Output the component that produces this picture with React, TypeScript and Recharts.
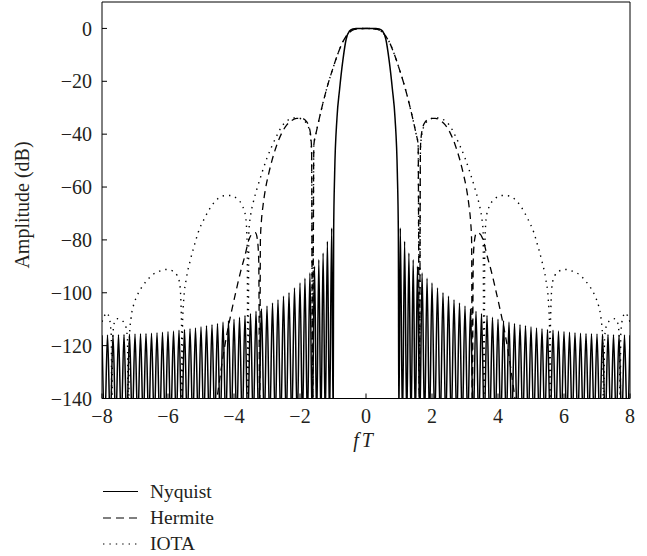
import React from 'react';
import { LineChart, Line, XAxis, YAxis } from 'recharts';

type P = [number, number];

const X_TICKS = [-8, -6, -4, -2, 0, 2, 4, 6, 8];
const Y_TICKS = [-140, -120, -100, -80, -60, -40, -20, 0];
const SERIES_NAMES = ['Nyquist', 'Hermite', 'IOTA'];

// Right halves (fT >= 0); the spectra are symmetric.
const NYQUIST_MAIN: P[] = [
  [0, 0], [0.3, 0], [0.4, -0.2], [0.5, -1], [0.6, -4], [0.7, -12], [0.8, -23],
  [0.88, -34], [0.95, -55], [0.98, -77], [0.995, -150],
];

// alternating sidelobe peaks and nulls
const NYQUIST_SIDELOBES: P[] = [
  [1.04, -75.5], [1.105, -150], [1.17, -80.5], [1.235, -150], [1.3, -85], [1.365, -150],
  [1.43, -87.5], [1.495, -150], [1.56, -90], [1.63, -150], [1.7, -92.5], [1.775, -150],
  [1.85, -94.5], [1.925, -150], [2.0, -96.3], [2.083, -150], [2.167, -98.2], [2.25, -150],
  [2.333, -100], [2.417, -150], [2.5, -101.3], [2.583, -150], [2.667, -102.6], [2.75, -150],
  [2.833, -103.9], [2.917, -150], [3.0, -105], [3.083, -150], [3.167, -106], [3.25, -150],
  [3.333, -107], [3.417, -150], [3.5, -107.8], [3.583, -150], [3.667, -108.6], [3.75, -150],
  [3.833, -109.3], [3.917, -150], [4.0, -110], [4.083, -150], [4.167, -110.6], [4.25, -150],
  [4.333, -111.1], [4.417, -150], [4.5, -111.6], [4.583, -150], [4.667, -112.1], [4.75, -150],
  [4.833, -112.5], [4.917, -150], [5.0, -112.9], [5.083, -150], [5.167, -113.3], [5.25, -150],
  [5.333, -113.6], [5.417, -150], [5.5, -113.9], [5.583, -150], [5.667, -114.2], [5.75, -150],
  [5.833, -114.5], [5.917, -150], [6.0, -114.7], [6.083, -150], [6.167, -114.9], [6.25, -150],
  [6.333, -115.1], [6.417, -150], [6.5, -115.3], [6.583, -150], [6.667, -115.4], [6.75, -150],
  [6.833, -115.5], [6.917, -150], [7.0, -115.6], [7.083, -150], [7.167, -115.7], [7.25, -150],
  [7.333, -115.8], [7.417, -150], [7.5, -115.9], [7.583, -150], [7.667, -116], [7.75, -150],
  [7.833, -116], [7.917, -150], [8.0, -116.1],
];

const SHARED_MAIN_LOBE: P[] = [
  [0, 0], [0.2, -0.1], [0.35, -0.4], [0.45, -1], [0.55, -2.2], [0.7, -5], [0.85, -9.5],
  [1.0, -15], [1.15, -21], [1.3, -28], [1.45, -36], [1.52, -40], [1.58, -44], [1.62, -150],
];

const HERMITE_SIDE: P[] = [
  [1.65, -45], [1.7, -38.5], [1.8, -35.3], [1.95, -34], [2.1, -34], [2.25, -34.8],
  [2.4, -36.5], [2.55, -39.5], [2.7, -44], [2.85, -50], [2.95, -55], [3.05, -61],
  [3.12, -67], [3.17, -73], [3.2, -80], [3.22, -150],
  [3.25, -88], [3.29, -80], [3.35, -77.3], [3.43, -77.5], [3.55, -80], [3.67, -86],
  [3.8, -92], [3.95, -100], [4.1, -108.5], [4.25, -118], [4.38, -128], [4.47, -136], [4.55, -143],
];

const IOTA_SIDE: P[] = [
  [1.65, -46], [1.7, -39.5], [1.8, -36], [1.95, -34.3], [2.1, -33.8], [2.25, -34],
  [2.4, -35], [2.55, -37], [2.7, -40.5], [2.85, -44.5], [3.0, -49], [3.15, -54.5],
  [3.3, -60.5], [3.42, -66], [3.5, -71], [3.55, -77], [3.575, -150],
  [3.6, -82], [3.65, -71], [3.75, -67], [3.9, -64.5], [4.1, -63.2], [4.3, -63.3],
  [4.5, -64.5], [4.7, -67.5], [4.9, -72], [5.08, -77], [5.2, -82], [5.33, -88],
  [5.45, -95], [5.52, -102], [5.56, -112], [5.575, -150],
  [5.59, -112], [5.64, -97], [5.72, -93.5], [5.85, -91.8], [6.05, -91.2], [6.25, -91.8],
  [6.45, -93], [6.65, -95.5], [6.8, -98], [6.95, -101.5], [7.05, -105], [7.12, -109.5],
  [7.17, -117], [7.2, -150],
  [7.23, -117], [7.3, -112], [7.42, -110.3], [7.55, -109.8], [7.63, -111.5], [7.68, -118], [7.7, -150],
  [7.72, -116], [7.78, -109.5], [7.86, -107.6], [7.93, -108.8], [8.0, -111],
];

function mirror(half: P[]) {
  const right = half.map(([x, y]) => ({ x, y }));
  const left = half
    .filter(([x]) => x > 0)
    .map(([x, y]) => ({ x: -x, y }))
    .reverse();
  return [...left, ...right];
}

const nyquistData = mirror([...NYQUIST_MAIN, ...NYQUIST_SIDELOBES]);
const hermiteData = mirror([...SHARED_MAIN_LOBE, ...HERMITE_SIDE]);
const iotaData = mirror([...SHARED_MAIN_LOBE, ...IOTA_SIDE]);

const FONT = '"Liberation Serif", "Times New Roman", serif';
const TEXT = '#231f20';
const FS = 20;
const W = 647;
const H = 556;

const fmt = (v: number) => String(v).replace('-', '\u2212');

export default function App() {
  const tickStyle = { fontSize: FS, fill: TEXT, fontFamily: FONT };
  return (
    <div style={{ position: 'absolute', left: 0, top: 0, width: W, height: H, background: '#fff' }}>
      <LineChart
        width={W}
        height={H}
        margin={{ top: 1, right: 16, left: 0, bottom: 97.5 }}
      >
        <XAxis
          dataKey="x"
          type="number"
          domain={[-8, 8]}
          ticks={X_TICKS}
          allowDataOverflow
          height={60}
          tickSize={-5}
          tickMargin={15}
          tick={tickStyle}
          tickFormatter={fmt}
          stroke="#000"
          interval={0}
        />
        <XAxis
          xAxisId="top"
          orientation="top"
          dataKey="x"
          type="number"
          domain={[-8, 8]}
          ticks={X_TICKS}
          allowDataOverflow
          height={1}
          tickSize={-5}
          tick={false}
          stroke="#000"
          interval={0}
        />
        <YAxis
          type="number"
          domain={[-140, 10]}
          ticks={Y_TICKS}
          allowDataOverflow
          width={102}
          tickSize={-5}
          tickMargin={15}
          tick={tickStyle}
          tickFormatter={fmt}
          stroke="#000"
          interval={0}
        />
        <YAxis
          yAxisId="right"
          orientation="right"
          type="number"
          domain={[-140, 10]}
          ticks={Y_TICKS}
          allowDataOverflow
          width={1}
          tickSize={-5}
          tick={false}
          stroke="#000"
          interval={0}
        />
        <Line
          name={SERIES_NAMES[0]}
          data={nyquistData}
          dataKey="y"
          type="monotone"
          stroke="#000"
          strokeWidth={1.5}
          dot={false}
          activeDot={false}
          isAnimationActive={false}
        />
        <Line
          name={SERIES_NAMES[1]}
          data={hermiteData}
          dataKey="y"
          type="monotone"
          stroke="#000"
          strokeWidth={1.3}
          strokeDasharray="7 5"
          dot={false}
          activeDot={false}
          isAnimationActive={false}
        />
        <Line
          name={SERIES_NAMES[2]}
          data={iotaData}
          dataKey="y"
          type="monotone"
          stroke="#000"
          strokeWidth={1.4}
          strokeDasharray="1.4 5"
          dot={false}
          activeDot={false}
          isAnimationActive={false}
        />
      </LineChart>
      <svg
        width={W}
        height={H}
        style={{ position: 'absolute', left: 0, top: 0, pointerEvents: 'none' }}
        fontFamily={FONT}
        fill={TEXT}
      >
        <text
          x={29}
          y={205}
          transform="rotate(-90 29 205)"
          textAnchor="middle"
          fontSize={FS}
        >
          Amplitude (dB)
        </text>
        <text x={363} y={447} textAnchor="middle" fontSize={FS} fontStyle="italic">
          <tspan>f</tspan>
          <tspan dx={3}>T</tspan>
        </text>
        {SERIES_NAMES.map((name, i) => {
          const base = [497.5, 524, 550][i];
          const y = base - 6;
          const dash = [undefined, '8 5', '1.4 5'][i];
          return (
            <g key={name}>
              <line x1={103} x2={138} y1={y} y2={y} stroke="#000" strokeWidth={1.2} strokeDasharray={dash} />
              <text x={150} y={base} fontSize={19.5}>
                {name}
              </text>
            </g>
          );
        })}
      </svg>
    </div>
  );
}
